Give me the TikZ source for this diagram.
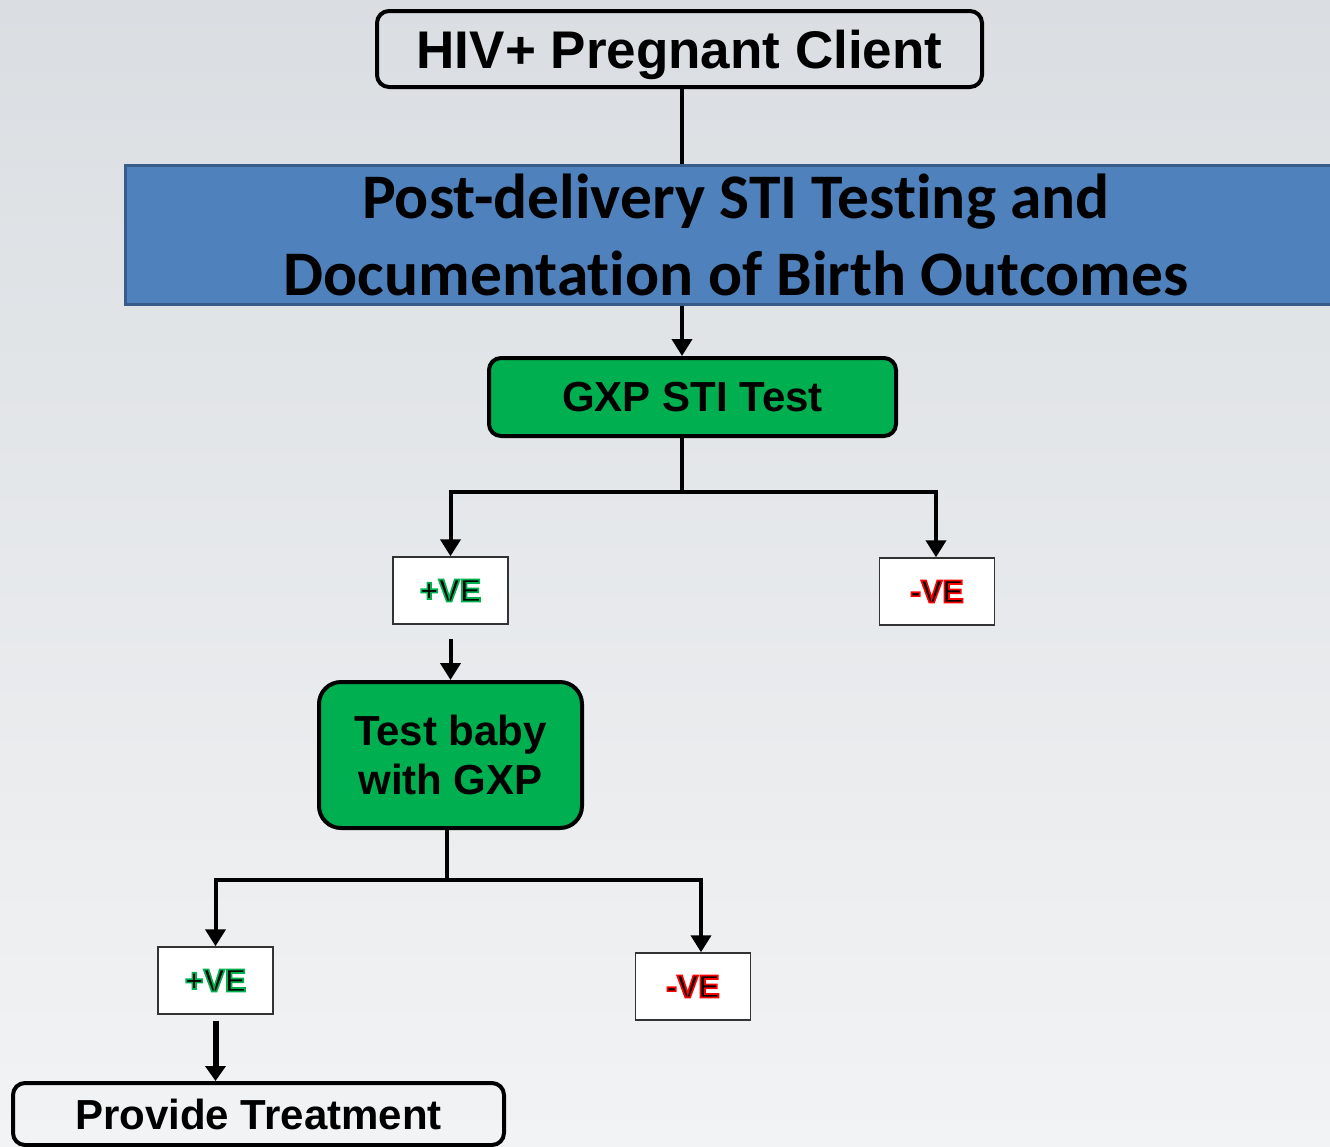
\documentclass[tikz,border=0pt]{standalone}
\usepackage{fontspec}
\setmainfont{Liberation Sans}
\newfontfamily\calibrifont[Ligatures=NoCommon]{Carlito}
\usetikzlibrary{arrows.meta}
\definecolor{gxpgreen}{RGB}{0,176,80}
\definecolor{stripblue}{RGB}{79,129,189}
\definecolor{stripline}{RGB}{56,93,138}
\definecolor{bgtop}{RGB}{218,222,226}
\definecolor{bgbottom}{RGB}{242,243,244}
% black letters with a coloured rim (fill and stroke text)
\newcommand{\rimmed}[2]{\special{pdf:literal direct 2 Tr 1.7 w #1 RG}#2\special{pdf:literal direct 0 Tr}}

\begin{document}
\begin{tikzpicture}[
  x=1pt, y=-1pt,
  every node/.style={inner sep=0pt},
  client/.style={draw, line width=4pt, rounded corners=12pt, text depth=0pt,
    font=\bfseries\fontsize{53}{60}\selectfont},
  strip/.style={draw=stripline, line width=3pt, fill=stripblue, align=center,
    font=\calibrifont\bfseries\fontsize{63.5}{77}\selectfont},
  testbox/.style={draw, line width=4pt, rounded corners=12pt, fill=gxpgreen, align=center,
    font=\bfseries\fontsize{42}{49}\selectfont},
  % small white boxes holding the test outcome
  result/.style={draw=black!80, line width=1.5pt, fill=white, minimum width=115pt,
    minimum height=67pt, font=\bfseries\fontsize{32}{38}\selectfont},
  link/.style={draw, line width=4pt},
  arrow/.style={draw, line width=4pt, -{Triangle[width=20pt,length=17pt]}},
  bigarrow/.style={draw, line width=6pt, -{Triangle[width=20pt,length=15pt]}}]

  % background
  \useasboundingbox (0,0) rectangle (1330,1146);
  \clip (0,0) rectangle (1330,1146);
  \shade[top color=bgtop, bottom color=bgbottom] (0,0) rectangle (1330,1146);

  % vertices
  \node[client, minimum width=605pt, minimum height=76pt] (hiv) at (679.5,49) {HIV+ Pregnant Client};
  \node[strip, minimum width=1222pt, minimum height=139pt] (banner) at (736,235)
    {Post-delivery STI Testing and\\Documentation of Birth Outcomes};
  \node[testbox, minimum width=407pt, minimum height=78pt] (gxp) at (692.5,397) {GXP STI Test};
  \node[result] (pos1) at (450.5,590.5) {\rimmed{0 0.69 0.31}{+VE}};
  \node[result] (neg1) at (937,591.5) {\rimmed{1 0 0}{-VE}};
  \node[testbox, rounded corners=22pt, minimum width=263pt, minimum height=146pt] (baby)
    at (450.5,755) {Test baby\\with GXP};
  \node[result] (pos2) at (215.5,980.5) {\rimmed{0 0.69 0.31}{+VE}};
  \node[result] (neg2) at (693,986.5) {\rimmed{1 0 0}{-VE}};
  \node[client, minimum width=491pt, minimum height=62pt, font=\bfseries\fontsize{42}{50}\selectfont]
    (treat) at (258.5,1114) {Provide Treatment};

  \coordinate (split1) at (682,492);
  \coordinate (split2) at (447,880);

  % arrows
  \draw[link]  (hiv.south -| split1) -- (banner.north -| split1);
  \draw[arrow] (banner.south -| split1) -- (gxp.north -| split1);
  \draw[link]  (gxp.south -| split1) -- (split1);
  \draw[arrow] (split1) -| (pos1.north);
  \draw[arrow] (split1) -| ([xshift=-1pt]neg1.north);
  \draw[arrow] ([yshift=-14pt]pos1.south) -- (baby.north);
  \draw[link]  (baby.south -| split2) -- (split2);
  \draw[arrow] (split2) -| (pos2.north);
  \draw[arrow] (split2) -| ([xshift=8pt]neg2.north);
  \draw[bigarrow] ([yshift=-6pt]pos2.south) -- (treat.north -| pos2.south);
\end{tikzpicture}
\end{document}
